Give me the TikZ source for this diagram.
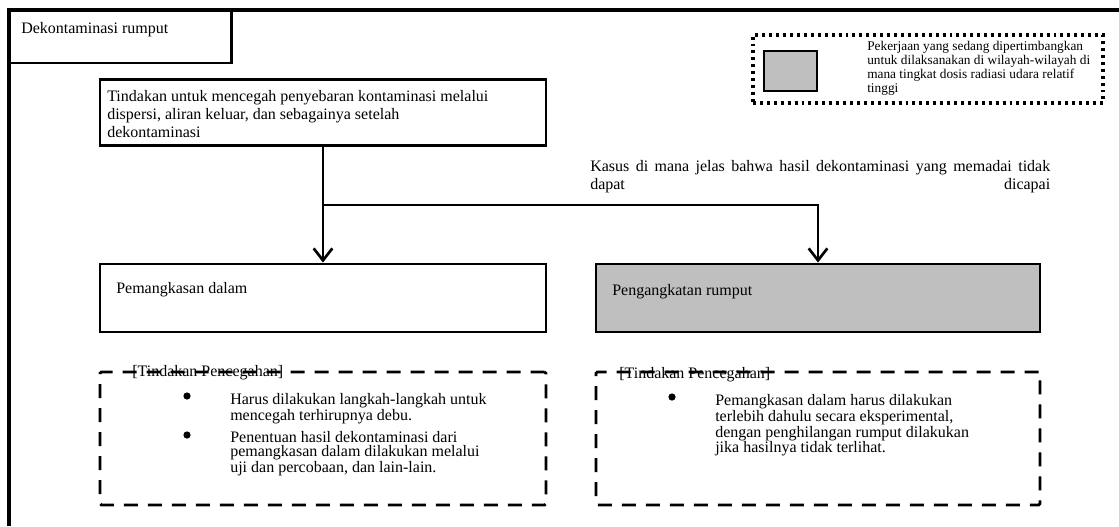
\documentclass[tikz,border=0pt]{standalone}
\usepackage{fontspec}
\setmainfont{Liberation Serif}
\usepackage{xcolor}
\usetikzlibrary{arrows.meta,positioning,calc}

\definecolor{shade}{HTML}{BFBFBF}

\begin{document}
\begin{tikzpicture}[
  x=0.75pt, y=-0.75pt,
  frame/.style={line width=2.4pt},
  box/.style={draw, line width=2.2pt, inner sep=0pt},
  note/.style={draw, line width=2.1pt, inner sep=0pt, rounded corners=1pt,
               dash pattern=on 10.5pt off 7.5pt},
  legendbox/.style={draw, line width=2.6pt, inner sep=0pt,
                    dash pattern=on 2.2pt off 3pt},
  txt/.style={font=\fontsize{12pt}{13.5pt}\selectfont, align=left,
              inner sep=0pt, anchor=north west},
  item/.style={font=\fontsize{12pt}{10.5pt}\selectfont, align=left,
               inner sep=0pt, anchor=north west},
  dot/.style={circle, fill, inner sep=0pt, minimum size=5.4pt},
  conn/.style={line width=2.2pt},
  >={Straight Barb[length=9pt,width=14pt,line width=2pt]}
]
\useasboundingbox (0,0) rectangle (1119,526);

% outer frame and title
\draw[frame] (9,526) -- (9,10) -- (1119,10);
\node[box, minimum width=167pt, minimum height=39.75pt] (title) at (120.5,36.5) {};
\node[txt] (titletext) at (21,22) {Dekontaminasi rumput};

% legend
\node[legendbox, minimum width=262.5pt, minimum height=51pt] (legend) at (928,69) {};
\node[box, fill=shade, minimum width=39.75pt, minimum height=30pt] (legsq) at (790.5,71) {};
\node[txt, font=\fontsize{10pt}{10.6pt}\selectfont] (legtext) at (867,41)
  {Pekerjaan yang sedang dipertimbangkan\\untuk dilaksanakan di wilayah-wilayah di\\mana tingkat dosis radiasi udara relatif\\tinggi};

% main boxes
\node[box, minimum width=334.5pt, minimum height=50pt] (prevent) at (323,112.5) {};
\node[txt] (preventtext) at (107,90)
  {Tindakan untuk mencegah penyebaran kontaminasi melalui\\dispersi, aliran keluar, dan sebagainya setelah\\dekontaminasi};

\node[box, minimum width=334.5pt, minimum height=51pt] (cut) at (323,298) {};
\node[txt] (cuttext) at (116,282) {Pemangkasan dalam};

\node[box, fill=shade, minimum width=333pt, minimum height=51pt] (remove) at (818,298) {};
\node[txt] (removetext) at (612,284) {Pengangkatan rumput};

% condition text
\node[txt] (cond) at (590,160)
  {\makebox[345pt][s]{Kasus di mana jelas bahwa hasil dekontaminasi yang memadai tidak}\\
   \makebox[345pt][s]{dapat\hfill dicapai}};

% connectors
\coordinate (fork) at (323,205);
\draw[conn,->] (prevent.south) -- (cut.north);
\draw[conn,->] (fork) -| (remove.north);

% precaution boxes
\node[note, minimum width=334.5pt, minimum height=99.75pt] (cutnote) at (323,438.5) {};
\node[txt, anchor=west] (cutlabel) at (132,373) {[Tindakan Pencegahan]};
\node[dot] (cutdotA) at (187,396) {};
\node[item] (cutitemA) at (230,393)
  {Harus dilakukan langkah-langkah untuk\\mencegah terhirupnya debu.};
\node[dot] (cutdotB) at (187,435) {};
\node[item] (cutitemB) at (230,431)
  {Penentuan hasil dekontaminasi dari\\pemangkasan dalam dilakukan melalui\\uji dan percobaan, dan lain-lain.};

\node[note, minimum width=333pt, minimum height=99.75pt] (removenote) at (818,438.5) {};
\node[txt, anchor=west] (removelabel) at (619,375) {[Tindakan Pencegahan]};
\node[dot] (removedotA) at (672,397) {};
\node[item] (removeitemA) at (715,394)
  {Pemangkasan dalam harus dilakukan\\terlebih dahulu secara eksperimental,\\dengan penghilangan rumput dilakukan\\jika hasilnya tidak terlihat.};
\end{tikzpicture}
\end{document}
